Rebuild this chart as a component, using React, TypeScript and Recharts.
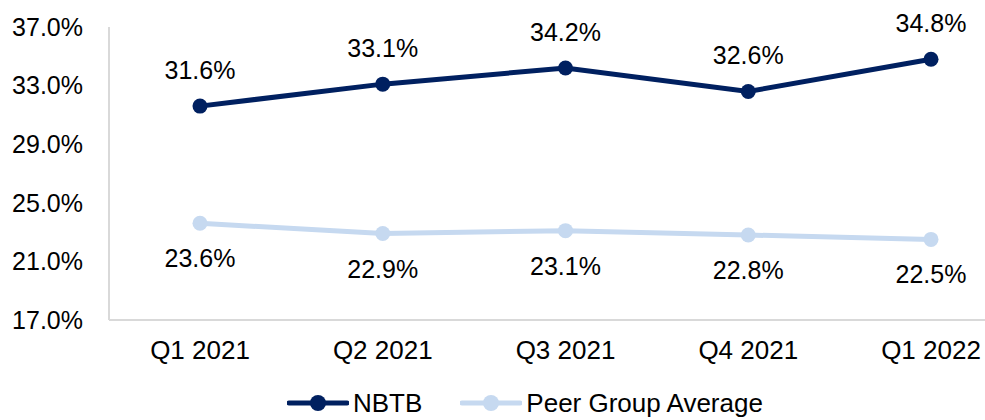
import { LineChart, Line, XAxis, YAxis, Legend, LabelList } from 'recharts';

const quarters = ['Q1 2021', 'Q2 2021', 'Q3 2021', 'Q4 2021', 'Q1 2022'];
const nbtb = [31.6, 33.1, 34.2, 32.6, 34.8];
const peerAvg = [23.6, 22.9, 23.1, 22.8, 22.5];
const yTicks = [17, 21, 25, 29, 33, 37];

const NAVY = '#002060';
const LIGHT = '#C6D9F0';
const FONT = '"Liberation Sans", Arial, sans-serif';

const data = quarters.map((q, i) => ({ quarter: q, nbtb: nbtb[i], peer: peerAvg[i] }));

const pct = (v: number) => `${v.toFixed(1)}%`;

// value labels: NBTB sits above its points, peer average below
const labelAbove = (props: any) => (
  <text x={props.x} y={props.y - 27} textAnchor="middle" fontSize={25} fontFamily={FONT} fill="#000">
    {pct(Number(props.value))}
  </text>
);
const labelBelow = (props: any) => (
  <text x={props.x} y={props.y + 44} textAnchor="middle" fontSize={25} fontFamily={FONT} fill="#000">
    {pct(Number(props.value))}
  </text>
);

function LegendItem({ color, label }: { color: string; label: string }) {
  return (
    <div style={{ display: 'flex', alignItems: 'center' }}>
      <svg width={62} height={20}>
        <line x1={2} y1={10} x2={60} y2={10} stroke={color} strokeWidth={5} strokeLinecap="round" />
        <circle cx={31} cy={10} r={8} fill={color} />
      </svg>
      <span style={{ marginLeft: 4 }}>{label}</span>
    </div>
  );
}

const renderLegend = () => (
  <div
    style={{
      display: 'flex',
      alignItems: 'center',
      gap: 38,
      paddingLeft: 287,
      paddingTop: 15,
      lineHeight: '26px',
      fontFamily: FONT,
      fontSize: 26,
      color: '#000',
    }}
  >
    <LegendItem color={NAVY} label="NBTB" />
    <LegendItem color={LIGHT} label="Peer Group Average" />
  </div>
);

export default function App() {
  return (
    <div style={{ position: 'absolute', left: 0, top: 0, background: '#fff' }}>
      <LineChart width={985} height={420} data={data} margin={{ top: 27, right: 0, left: 0, bottom: 0 }}>
        <XAxis
          dataKey="quarter"
          axisLine={{ stroke: '#D9D9D9', strokeWidth: 2 }}
          tickLine={false}
          tickSize={0}
          tickMargin={21}
          height={55}
          padding={{ left: 91, right: 54 }}
          tick={{ fill: '#000', fontSize: 26, fontFamily: FONT }}
          interval={0}
        />
        <YAxis
          domain={[17, 37]}
          ticks={yTicks}
          width={109}
          axisLine={{ stroke: '#D9D9D9', strokeWidth: 2 }}
          tickLine={false}
          tickSize={0}
          tickMargin={26}
          tickFormatter={(v: number) => pct(v)}
          tick={{ fill: '#000', fontSize: 25, fontFamily: FONT }}
        />
        <Legend verticalAlign="bottom" content={renderLegend} wrapperStyle={{ height: 45 }} />
        <Line
          dataKey="nbtb"
          name="NBTB"
          stroke={NAVY}
          strokeWidth={5}
          dot={{ r: 7.5, fill: NAVY, stroke: 'none' }}
          activeDot={false}
          isAnimationActive={false}
        >
          <LabelList dataKey="nbtb" content={labelAbove} />
        </Line>
        <Line
          dataKey="peer"
          name="Peer Group Average"
          stroke={LIGHT}
          strokeWidth={5}
          dot={{ r: 7.5, fill: LIGHT, stroke: 'none' }}
          activeDot={false}
          isAnimationActive={false}
        >
          <LabelList dataKey="peer" content={labelBelow} />
        </Line>
      </LineChart>
    </div>
  );
}
